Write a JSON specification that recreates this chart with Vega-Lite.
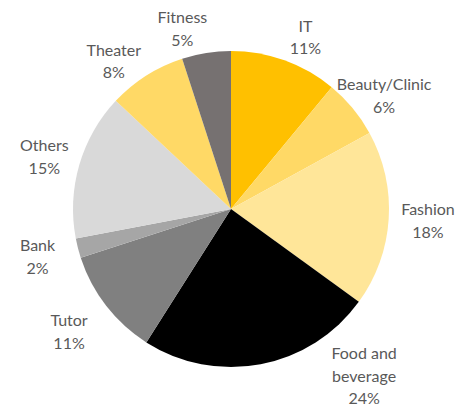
{
  "$schema": "https://vega.github.io/schema/vega-lite/v6.json",
  "width": 462,
  "height": 394,
  "autosize": "none",
  "padding": {"left": 0, "top": 12, "right": 7, "bottom": 0},
  "background": "white",
  "config": {"view": {"stroke": null}},
  "data": {
    "values": [
      {"category": "IT", "share": 11, "rank": 1, "labelAngle": 22.2, "label": "IT\n11%"},
      {"category": "Beauty/Clinic", "share": 6, "rank": 2, "labelAngle": 51.0, "label": "Beauty/Clinic\n6%"},
      {"category": "Fashion", "share": 18, "rank": 3, "labelAngle": 90.3, "label": "Fashion\n18%"},
      {"category": "Food and beverage", "share": 24, "rank": 4, "labelAngle": 137.5, "label": "Food and\nbeverage\n24%"},
      {"category": "Tutor", "share": 11, "rank": 5, "labelAngle": 235.3, "label": "Tutor\n11%"},
      {"category": "Bank", "share": 2, "rank": 6, "labelAngle": 259.1, "label": "Bank\n2%"},
      {"category": "Others", "share": 15, "rank": 7, "labelAngle": 288.6, "label": "Others\n15%"},
      {"category": "Theater", "share": 8, "rank": 8, "labelAngle": 323.5, "label": "Theater\n8%"},
      {"category": "Fitness", "share": 5, "rank": 9, "labelAngle": 345.7, "label": "Fitness\n5%"}
    ]
  },
  "layer": [
    {
      "mark": {"type": "arc", "outerRadius": 158, "stroke": null},
      "encoding": {
        "theta": {"field": "share", "type": "quantitative", "stack": true},
        "order": {"field": "rank", "type": "quantitative"},
        "color": {
          "field": "category",
          "type": "nominal",
          "legend": null,
          "scale": {
            "domain": ["IT", "Beauty/Clinic", "Fashion", "Food and beverage", "Tutor", "Bank", "Others", "Theater", "Fitness"],
            "range": ["#FFC000", "#FFD966", "#FFE699", "#000000", "#808080", "#A6A6A6", "#D9D9D9", "#FFD966", "#767171"]
          }
        }
      }
    },
    {
      "mark": {"type": "text", "radius": 197, "font": "Lato", "fontSize": 16, "color": "#595959", "lineBreak": "\n", "lineHeight": 22.5, "align": "center", "baseline": "middle"},
      "encoding": {
        "theta": {"field": "labelAngle", "type": "quantitative", "stack": null, "scale": {"domain": [0, 360], "range": [0, 6.283185307]}},
        "text": {"field": "label", "type": "nominal"}
      }
    }
  ],
  "resolve": {"scale": {"theta": "independent"}}
}
